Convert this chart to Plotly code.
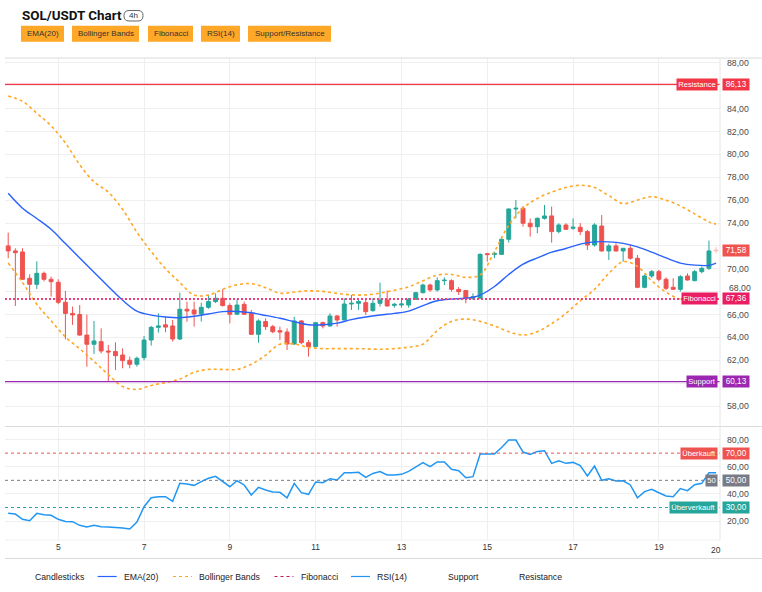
import plotly.graph_objects as go
import pandas as pd

W, H = 762, 592
def px(x): return x / W
def py(y): return 1 - y / H

# ---------------- data ----------------
start = pd.Timestamp("2024-05-03 20:00")
n_candles = 100
times = [start + pd.Timedelta(hours=4 * i) for i in range(n_candles)]

opens = [72.00, 71.56, 71.47, 69.17, 68.64, 69.60, 69.08, 68.82, 67.07, 66.10,
         66.00, 64.20, 63.40, 63.63, 62.81, 62.76, 62.46, 62.00, 61.65, 62.23,
         63.77, 64.88, 65.10, 65.00, 63.86, 66.46, 66.40, 66.05, 66.63, 67.13,
         67.42, 66.78, 66.02, 66.89, 66.10, 64.27, 65.38, 64.94, 64.59, 64.47,
         63.43, 65.44, 63.54, 63.19, 65.29, 65.00, 65.87, 65.52, 66.92, 66.98,
         67.04, 66.34, 66.98, 67.27, 66.80, 66.83, 66.83, 67.33, 67.91, 68.58,
         68.15, 68.96, 68.96, 68.20, 68.09, 67.42, 67.42, 71.32, 71.24, 71.26,
         72.58, 75.23, 75.29, 73.98, 73.68, 74.41, 74.62, 73.25, 73.83, 73.54,
         73.63, 73.25, 72.08, 73.74, 71.56, 72.00, 71.56, 71.79, 70.92, 68.38,
         69.37, 69.75, 69.08, 68.38, 68.20, 69.37, 68.96, 69.75, 70.04, 71.64]
highs = [73.16, 71.79, 71.79, 69.52, 70.65, 69.75, 69.31, 69.08, 68.06, 66.69,
         66.83, 66.00, 65.44, 64.79, 63.34, 63.57, 63.04, 62.32, 62.32, 64.12,
         65.00, 66.10, 65.80, 65.52, 67.91, 67.13, 67.13, 67.04, 67.71, 67.85,
         68.20, 66.98, 67.33, 67.13, 66.40, 65.58, 65.67, 65.09, 64.94, 64.79,
         65.81, 65.52, 63.77, 65.30, 65.38, 66.11, 65.96, 67.42, 67.71, 67.27,
         67.27, 67.42, 68.79, 68.09, 67.00, 67.30, 67.45, 67.98, 68.70, 68.70,
         69.25, 69.25, 69.08, 68.40, 68.15, 67.85, 71.35, 71.40, 71.50, 72.81,
         75.25, 76.02, 75.49, 74.40, 74.50, 75.58, 75.43, 73.98, 73.98, 74.41,
         74.00, 73.40, 73.98, 74.70, 72.20, 72.23, 71.79, 72.08, 71.20, 69.50,
         69.90, 69.90, 69.25, 69.17, 69.45, 69.60, 69.90, 70.20, 72.46, 71.90]
lows = [70.92, 66.75, 69.02, 67.40, 68.23, 68.90, 67.56, 66.90, 63.83, 65.09,
        64.15, 61.44, 62.55, 62.60, 60.13, 61.15, 61.30, 61.30, 61.44, 62.00,
        63.28, 64.42, 64.45, 63.63, 63.77, 65.38, 64.94, 65.38, 66.50, 67.00,
        66.70, 65.23, 65.96, 65.96, 64.21, 63.54, 64.65, 64.36, 63.77, 62.90,
        63.34, 63.40, 62.32, 63.13, 64.79, 64.94, 64.94, 65.50, 66.40, 66.40,
        65.96, 66.25, 66.69, 66.69, 66.60, 66.60, 66.60, 67.30, 67.85, 68.00,
        68.00, 68.58, 68.00, 67.71, 66.98, 67.27, 67.42, 70.62, 70.92, 71.20,
        72.29, 74.41, 73.68, 72.81, 73.10, 74.30, 72.29, 73.10, 73.40, 73.40,
        72.95, 71.64, 71.93, 71.50, 70.77, 71.50, 70.62, 70.80, 68.30, 68.29,
        69.20, 68.90, 68.15, 68.15, 68.00, 68.96, 68.90, 69.60, 69.90, 71.35]
closes = [71.56, 71.41, 69.08, 68.64, 69.60, 69.08, 68.87, 67.07, 66.10, 65.96,
          64.20, 63.40, 63.69, 62.81, 62.73, 62.40, 61.97, 61.65, 62.17, 63.77,
          64.88, 65.00, 64.90, 63.86, 66.46, 66.31, 66.05, 66.63, 67.13, 67.42,
          66.78, 66.02, 66.83, 66.02, 64.27, 65.44, 64.94, 64.50, 64.47, 63.43,
          65.44, 63.54, 63.19, 65.29, 65.00, 65.87, 65.52, 66.92, 66.98, 67.13,
          66.25, 66.98, 67.27, 66.75, 66.89, 66.92, 67.33, 67.91, 68.58, 68.15,
          68.96, 69.00, 68.20, 68.00, 67.42, 67.56, 71.26, 71.24, 71.35, 72.58,
          75.23, 75.29, 73.98, 73.68, 74.41, 74.62, 73.25, 73.83, 73.45, 73.63,
          73.25, 72.08, 73.83, 71.56, 72.00, 71.56, 71.79, 70.92, 68.38, 69.37,
          69.75, 69.08, 68.29, 68.20, 69.31, 69.02, 69.75, 70.04, 71.56, 71.58]

# indicator samples (candle index -> value)
ind_idx = list(range(0, 100, 2)) + [99]
ema20 = [76.60, 75.30, 74.40, 73.45, 72.20, 70.95, 69.70, 68.45, 67.25, 66.30,
         65.95, 65.78, 65.72, 65.85, 66.05, 66.25, 66.27, 66.15, 65.92, 65.67,
         65.38, 65.10, 65.10, 65.25, 65.55, 65.78, 65.96, 66.10, 66.30, 66.78,
         67.20, 67.35, 67.42, 67.70, 68.45, 69.50, 70.40, 70.95, 71.45, 71.77,
         72.15, 72.35, 72.35, 72.22, 71.92, 71.45, 70.95, 70.50, 70.32, 70.30,
         70.50]
bb_upper = [85.10, 84.65, 83.60, 82.50, 81.00, 79.10, 77.60, 76.70, 75.20, 73.20,
            71.50, 70.00, 68.80, 67.70, 67.70, 68.20, 68.60, 68.70, 68.35, 67.86,
            67.97, 68.07, 68.02, 67.85, 67.72, 67.71, 67.88, 68.12, 68.42, 68.95,
            69.45, 69.50, 69.25, 69.46, 71.50, 73.80, 75.30, 76.15, 76.70, 77.10,
            77.30, 77.10, 76.40, 75.70, 76.00, 76.30, 76.00, 75.50, 74.80, 74.10,
            73.90]
bb_lower = [70.50, 68.80, 66.90, 65.45, 64.05, 63.00, 61.90, 60.75, 59.70, 59.45,
            59.80, 60.05, 60.35, 60.95, 61.20, 61.20, 61.20, 61.65, 62.45, 63.40,
            63.42, 63.12, 63.02, 63.02, 63.02, 63.00, 62.96, 63.02, 63.15, 63.40,
            64.60, 65.40, 65.60, 65.40, 65.00, 64.50, 64.20, 64.50, 65.20, 66.10,
            67.20, 68.20, 69.60, 70.62, 70.20, 68.95, 67.95, 67.35, 67.30, 67.40,
            67.45]
rsi14 = [25.7, 25.2, 21.3, 20.3, 25.7, 24.7, 24.3, 21.3, 19.8, 19.6,
         16.9, 15.7, 16.9, 15.9, 15.7, 15.4, 14.9, 14.2, 19.3, 30.6,
         37.2, 38.0, 38.0, 34.5, 47.8, 47.3, 46.3, 49.0, 51.5, 52.9,
         49.0, 45.3, 49.7, 46.6, 39.2, 44.8, 42.9, 41.4, 41.2, 37.2,
         47.8, 40.9, 39.7, 48.8, 48.3, 51.2, 50.2, 55.6, 55.6, 55.9,
         52.2, 55.1, 56.4, 53.9, 53.9, 54.4, 56.6, 60.0, 63.0, 60.0,
         63.5, 63.5, 58.1, 57.1, 51.9, 52.7, 69.3, 69.3, 69.3, 74.2,
         79.6, 79.6, 70.8, 69.1, 71.3, 71.8, 62.5, 64.4, 62.5, 63.2,
         60.8, 53.2, 60.5, 50.0, 51.2, 49.5, 49.7, 46.6, 37.2, 41.7,
         43.4, 40.9, 38.5, 38.0, 43.9, 42.4, 46.8, 47.8, 55.6, 55.6]

resistance = 86.13
support = 60.13
fib_level = 67.36
rsi_levels = [70, 50, 30]
price_ticks = list(range(58, 89, 2))
rsi_ticks = [20, 40, 60, 80]
day_ticks = [5, 7, 9, 11, 13, 15, 17, 19]

# ---------------- colors ----------------
UP, DOWN = "#26A69A", "#EF5350"
GRID = "#EFEFEF"
AXIS_TXT = "#4a4a4a"
FONT = "Liberation Sans, Arial, sans-serif"
TICK_FS = 8.7

fig = go.Figure()
ind_x = [times[i] for i in ind_idx]

fig.add_trace(go.Candlestick(
    x=times[:-1], open=opens[:-1], high=highs[:-1], low=lows[:-1], close=closes[:-1],
    increasing=dict(line=dict(color=UP, width=1), fillcolor=UP),
    decreasing=dict(line=dict(color=DOWN, width=1), fillcolor=DOWN),
    whiskerwidth=0, showlegend=False, xaxis="x", yaxis="y", hoverinfo="skip"))
fig.add_trace(go.Candlestick(
    x=times[-1:], open=opens[-1:], high=highs[-1:], low=lows[-1:], close=closes[-1:],
    increasing=dict(line=dict(color=UP, width=1), fillcolor=UP),
    decreasing=dict(line=dict(color=DOWN, width=1), fillcolor=DOWN),
    opacity=0.35, showlegend=False, xaxis="x", yaxis="y", hoverinfo="skip"))

for band in (bb_upper, bb_lower):
    fig.add_trace(go.Scatter(x=ind_x, y=band, mode="lines",
                             line=dict(color="#FFA726", width=1.6, dash="dot", shape="spline"),
                             showlegend=False, xaxis="x", yaxis="y", hoverinfo="skip"))
fig.add_trace(go.Scatter(x=ind_x, y=ema20, mode="lines",
                         line=dict(color="#2962FF", width=1.4, shape="spline"),
                         showlegend=False, xaxis="x", yaxis="y", hoverinfo="skip"))
fig.add_trace(go.Scatter(x=times, y=rsi14, mode="lines",
                         line=dict(color="#2196F3", width=1.5),
                         showlegend=False, xaxis="x2", yaxis="y2", hoverinfo="skip"))

x0 = times[0] - pd.Timedelta(hours=1.79)
x1 = times[-1] + pd.Timedelta(hours=2.18)
tickdates = [pd.Timestamp(2024, 5, d) for d in day_ticks]

def fmt(v):
    return f"{v:.2f}".replace(".", ",")

# price tick labels hidden where the level labels cover them in the reference;
# 68 is drawn separately, nudged up just clear of the Fibonacci value box
covered = {60, 72, 86}
nudged = {68}
price_text = ["" if (v in covered or v in nudged) else fmt(v) for v in price_ticks]
rsi_text = [fmt(v) for v in rsi_ticks]

fig.update_layout(
    width=W, height=H, margin=dict(l=0, r=0, t=0, b=0),
    paper_bgcolor="white", plot_bgcolor="white",
    separators=",.", showlegend=False, boxgap=0.22,
    font=dict(family=FONT, color="#333"),
    xaxis=dict(domain=[px(5), px(720)], anchor="y", type="date", range=[x0, x1],
               tickvals=tickdates, showticklabels=False, showgrid=True, gridcolor=GRID,
               zeroline=False, showline=False, rangeslider=dict(visible=False), fixedrange=True),
    xaxis2=dict(domain=[px(5), px(720)], anchor="y2", type="date", range=[x0, x1],
                matches="x", tickvals=tickdates, ticktext=[str(d) for d in day_ticks],
                tickfont=dict(size=8.5, color="#333"), showgrid=True, gridcolor=GRID,
                zeroline=False, showline=False, ticks=""),
    yaxis=dict(domain=[py(425), py(58)], anchor="x", side="right", range=[56.34, 88.43],
               tickvals=price_ticks, ticktext=price_text, tickfont=dict(size=TICK_FS, color=AXIS_TXT),
               showgrid=True, gridcolor=GRID, zeroline=False, showline=False, ticks="",
               ticklabelstandoff=6),
    yaxis2=dict(domain=[py(540), py(428)], anchor="x2", side="right", range=[6.1, 88.5],
                tickvals=rsi_ticks, ticktext=rsi_text, tickfont=dict(size=TICK_FS, color=AXIS_TXT),
                showgrid=True, gridcolor=GRID, zeroline=False, showline=False, ticks="",
                ticklabelstandoff=6),
)

shapes = []
# level lines
shapes.append(dict(type="line", xref="paper", yref="y", x0=px(5), x1=px(720),
                   y0=resistance, y1=resistance, line=dict(color="#F23645", width=1.3)))
shapes.append(dict(type="line", xref="paper", yref="y", x0=px(5), x1=px(720),
                   y0=support, y1=support, line=dict(color="#9C27B0", width=1.3)))
shapes.append(dict(type="line", xref="paper", yref="y", x0=px(5), x1=px(720),
                   y0=fib_level, y1=fib_level, line=dict(color="#EC407A", width=2, dash="2px,2px")))
rsi_cols = {70: "#EF5350", 50: "#787B86", 30: "#26A69A"}
for lv in rsi_levels:
    shapes.append(dict(type="line", xref="paper", yref="y2", x0=px(5), x1=px(720),
                       y0=lv, y1=lv, line=dict(color=rsi_cols[lv], width=1, dash="3px,3px")))
# pane borders
border = "#DADADA"
shapes += [
    dict(type="line", xref="paper", yref="paper", x0=px(5), x1=1, y0=py(58), y1=py(58),
         line=dict(color=border, width=1)),
    dict(type="line", xref="paper", yref="paper", x0=px(5), x1=1, y0=py(426.5), y1=py(426.5),
         line=dict(color=border, width=1)),
    dict(type="line", xref="paper", yref="paper", x0=px(5), x1=px(720), y0=py(540), y1=py(540),
         line=dict(color=GRID, width=1)),
    dict(type="line", xref="paper", yref="paper", x0=px(5), x1=1, y0=py(558.5), y1=py(558.5),
         line=dict(color=border, width=1)),
    dict(type="line", xref="paper", yref="paper", x0=px(720), x1=px(720), y0=py(58), y1=py(540),
         line=dict(color="#E6E6E6", width=1)),
]

annotations = []
def label(x_right, y, yref, text, color, size=7.6):
    annotations.append(dict(xref="paper", yref=yref, x=px(x_right), y=y, xanchor="right",
                            yanchor="middle", text=text, showarrow=False, bgcolor=color,
                            font=dict(size=size, color="white", family=FONT), borderpad=1.2))
def value(y, yref, text, color):
    annotations.append(dict(xref="paper", yref=yref, x=px(721.7), y=y, xanchor="left",
                            yanchor="middle", text=text, showarrow=False, bgcolor=color,
                            width=24, align="center",
                            font=dict(size=8.2, color="white", family=FONT), borderpad=1.2))

for v in sorted(nudged):
    annotations.append(dict(xref="paper", yref="y", x=px(726.5), y=v, xanchor="left",
                            yanchor="bottom", yshift=-3, text=fmt(v), showarrow=False,
                            font=dict(size=TICK_FS, color=AXIS_TXT, family=FONT)))

label(718.3, resistance, "y", "Resistance", "#F23645")
value(resistance, "y", fmt(resistance), "#F23645")
label(718.3, fib_level, "y", "Fibonacci", "#E91E63")
value(fib_level, "y", fmt(fib_level), "#E91E63")
label(718.3, support, "y", "Support", "#9C27B0")
value(support, "y", fmt(support), "#9C27B0")
value(closes[-1], "y", fmt(closes[-1]), "#EF5350")
rsi_names = {70: "Überkauft", 50: "50", 30: "Überverkauft"}
for lv in rsi_levels:
    label(718.3, lv, "y2", rsi_names[lv], rsi_cols[lv])
    value(lv, "y2", fmt(lv), rsi_cols[lv])

# last time label
annotations.append(dict(xref="paper", yref="paper", x=px(716), y=py(549.5), text="20",
                        showarrow=False, font=dict(size=8.5, color="#333"),
                        xanchor="center", yanchor="middle"))

# title + badge
annotations.append(dict(xref="paper", yref="paper", x=px(20), y=py(16), xanchor="left",
                        yanchor="middle", text="<b>SOL/USDT Chart</b>", showarrow=False,
                        font=dict(size=13.4, color="#111", family="Roboto, Arial, sans-serif")))
bx0, bx1, by0, by1, r = 124, 143, 10.5, 21, 5
def P(x, y): return f"{px(x):.5f},{py(y):.5f}"
path = (f"M {P(bx0 + r, by0)} L {P(bx1 - r, by0)} Q {P(bx1, by0)} {P(bx1, by0 + r)} "
        f"L {P(bx1, by1 - r)} Q {P(bx1, by1)} {P(bx1 - r, by1)} L {P(bx0 + r, by1)} "
        f"Q {P(bx0, by1)} {P(bx0, by1 - r)} L {P(bx0, by0 + r)} Q {P(bx0, by0)} {P(bx0 + r, by0)} Z")
shapes.append(dict(type="path", xref="paper", yref="paper", path=path,
                   line=dict(color="#666", width=1), fillcolor="white"))
annotations.append(dict(xref="paper", yref="paper", x=px((bx0 + bx1) / 2), y=py(15.8),
                        text="4h", showarrow=False, font=dict(size=8, color="#333"),
                        xanchor="center", yanchor="middle"))

# indicator buttons
buttons = [("EMA(20)", 21, 64), ("Bollinger Bands", 72, 139), ("Fibonacci", 148, 193),
           ("RSI(14)", 201, 240), ("Support/Resistance", 248, 331)]
for txt, a, b in buttons:
    shapes.append(dict(type="rect", xref="paper", yref="paper", x0=px(a), x1=px(b),
                       y0=py(41.7), y1=py(25.7), fillcolor="#FFA726", line=dict(width=0)))
    annotations.append(dict(xref="paper", yref="paper", x=px((a + b) / 2), y=py(33.7),
                            text=txt, showarrow=False, font=dict(size=8, color="#333"),
                            xanchor="center", yanchor="middle"))

# legend (manual)
leg_y = 576.5
legend_items = [("Candlesticks", None, None, 32.5),
                ("EMA(20)", "#2962FF", "solid", 121.7),
                ("Bollinger Bands", "#FFA726", "dot", 197),
                ("Fibonacci", "#C2185B", "dot", 298.5),
                ("RSI(14)", "#2196F3", "solid", 375),
                ("Support", None, None, 445.8),
                ("Resistance", None, None, 516.6)]
for txt, col, dash, tx in legend_items:
    if col:
        shapes.append(dict(type="line", xref="paper", yref="paper", x0=px(tx - 24), x1=px(tx - 5),
                           y0=py(leg_y), y1=py(leg_y),
                           line=dict(color=col, width=1.2 if dash == "solid" else 1, dash=dash)))
    annotations.append(dict(xref="paper", yref="paper", x=px(tx), y=py(leg_y), text=txt,
                            showarrow=False, xanchor="left", yanchor="middle",
                            font=dict(size=8.7, color="#222")))

fig.update_layout(shapes=shapes, annotations=annotations)
fig.write_html("out.html")
